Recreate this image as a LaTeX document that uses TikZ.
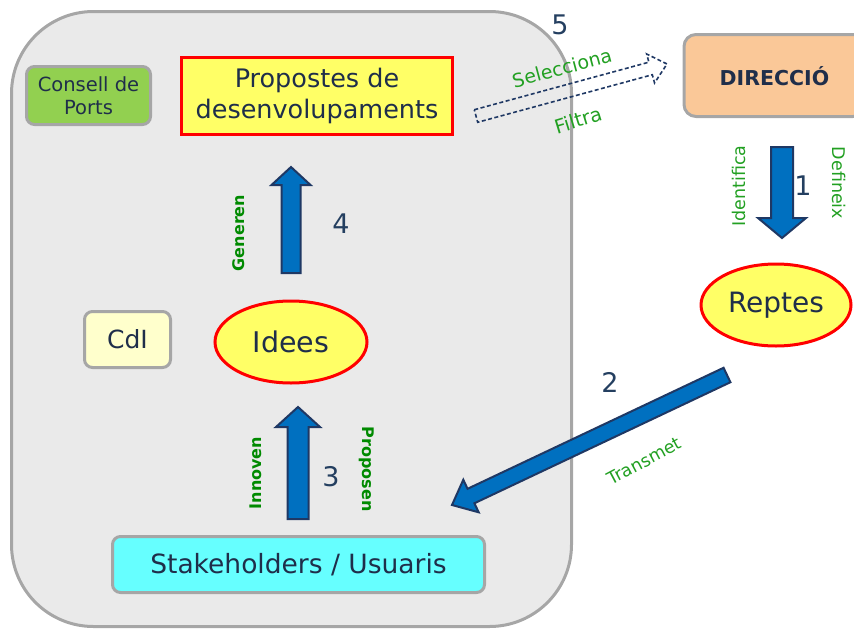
\documentclass[tikz,border=0pt]{standalone}
\usepackage{fontspec}
\setmainfont{DejaVu Sans}
\usetikzlibrary{calc,shapes.geometric}
\definecolor{txt}{HTML}{1F2E4A}
\definecolor{boxgray}{HTML}{EAEAEA}
\definecolor{edgegray}{HTML}{A6A6A6}
\definecolor{cgreen}{HTML}{92D050}
\definecolor{pyellow}{HTML}{FFFF66}
\definecolor{peach}{HTML}{FAC898}
\definecolor{cream}{HTML}{FFFFCC}
\definecolor{cyanbox}{HTML}{66FFFF}
\definecolor{arrowblue}{HTML}{0070C0}
\definecolor{arrownavy}{HTML}{1F3864}
\definecolor{lgreen}{HTML}{22A022}
\definecolor{dgreen}{HTML}{008A00}
\definecolor{numcol}{HTML}{243F60}
\newcommand{\fs}[2]{\fontsize{#1}{#2}\selectfont}
\newcommand{\blockarrow}[6][]{%
  \coordinate (ba-b) at ($(#3)!#6!(#2)$);
  \draw[#1] ($(#2)!#4!90:(#3)$) -- ($(ba-b)!#4!90:(#3)$) -- ($(ba-b)!#5!90:(#3)$) -- (#3)
    -- ($(ba-b)!#5!-90:(#3)$) -- ($(ba-b)!#4!-90:(#3)$) -- ($(#2)!#4!-90:(#3)$) -- cycle;}
\tikzset{
  graybox/.style={draw=edgegray, line width=3pt, rounded corners=8pt, inner sep=0pt, text=txt, align=center},
  redbox/.style={draw=red, line width=3pt, fill=pyellow, inner sep=0pt, text=txt, align=center},
  redell/.style={ellipse, draw=red, line width=3pt, fill=pyellow, inner sep=0pt, text=txt},
  bluearrow/.style={fill=arrowblue, draw=arrownavy, line width=2pt, line join=miter},
  dasharrow/.style={draw=arrownavy, line width=1.6pt, dash pattern=on 4pt off 2.5pt},
  numlab/.style={text=numcol, font=\fs{27}{32}},
  glab/.style={text=lgreen, font=\fs{17.5}{21}, inner sep=0pt},
  gblab/.style={text=dgreen, font=\fs{16}{19}\bfseries, inner sep=0pt},
}
\begin{document}
\begin{tikzpicture}[x=1pt,y=-1pt]
\useasboundingbox (0,0) rectangle (854,629);
% big container
\draw[fill=boxgray, draw=edgegray, line width=3pt, rounded corners=82pt] (11.5,11.5) rectangle (571.5,626.5);
% nodes
\node[graybox, fill=cgreen, minimum width=124pt, minimum height=58pt, font=\fs{19.5}{23}] (cp) at (88.5,95.5) {Consell de\\Ports};
\node[redbox, minimum width=271pt, minimum height=77pt, font=\fs{25.5}{31}] (prop) at (317,96) {Propostes de\\desenvolupaments};
\node[graybox, fill=peach, rounded corners=12pt, minimum width=181pt, minimum height=82pt] (dir) at (774.5,75.5) {};
\node[text=txt, font=\fs{20.5}{25}\bfseries, inner sep=0pt] (dirt) at (774.5,76) {DIRECCIÓ};
\node[redell, minimum width=150pt, minimum height=82pt, font=\fs{28}{33}] (rep) at (776,305) {Reptes};
\node[redell, minimum width=152pt, minimum height=82pt, font=\fs{28.5}{34}] (ide) at (291,342) {Idees};
\node[graybox, fill=cream, minimum width=86pt, minimum height=56pt, font=\fs{25}{30}] (cdi) at (127.5,339.5) {CdI};
\node[graybox, fill=cyanbox, minimum width=372pt, minimum height=56pt, font=\fs{26.5}{31}] (stk) at (298.5,564.5) {Stakeholders / Usuaris};
% arrow end points
\coordinate (a1s) at (782,147); \coordinate (a1e) at (782,238);
\coordinate (a2s) at (727,375); \coordinate (a2e) at (452,505);
\coordinate (a3s) at (298,519); \coordinate (a3e) at (298,407);
\coordinate (a4s) at (291,273); \coordinate (a4e) at (291,167);
\coordinate (a5s) at (476,116); \coordinate (a5e) at (667,64);
\blockarrow[bluearrow]{a1s}{a1e}{11pt}{24pt}{20pt}
\blockarrow[bluearrow]{a2s}{a2e}{8pt}{18pt}{21pt}
\blockarrow[bluearrow]{a3s}{a3e}{10.5pt}{22pt}{20pt}
\blockarrow[bluearrow]{a4s}{a4e}{9.5pt}{19.5pt}{18pt}
\blockarrow[dasharrow]{a5s}{a5e}{6.5pt}{15pt}{17pt}
% numbers
\node[numlab] (n5) at (560,25) {5};
\node[numlab] (n1) at (803,186) {1};
\node[numlab] (n4) at (341,224) {4};
\node[numlab] (n2) at (610,382) {2};
\node[numlab] (n3) at (331,477) {3};
% green labels
\node[glab, rotate=90] (lid) at (739,186) {Identifica};
\node[glab, rotate=-90] (ldf) at (839,183) {Defineix};
\node[gblab, rotate=90] (lgn) at (239,233) {Generen};
\node[gblab, rotate=90] (lin) at (256,473) {Innoven};
\node[gblab, rotate=-90] (lpr) at (367,469) {Proposen};
\node[glab, font=\fs{17.5}{21}, rotate=28] (ltr) at (644,461) {Transmet};
\node[glab, font=\fs{19}{22}, rotate=15] (lse) at (562,68) {Selecciona};
\node[glab, font=\fs{19.5}{23}, rotate=17] (lfi) at (578,120) {Filtra};
\end{tikzpicture}
\end{document}
